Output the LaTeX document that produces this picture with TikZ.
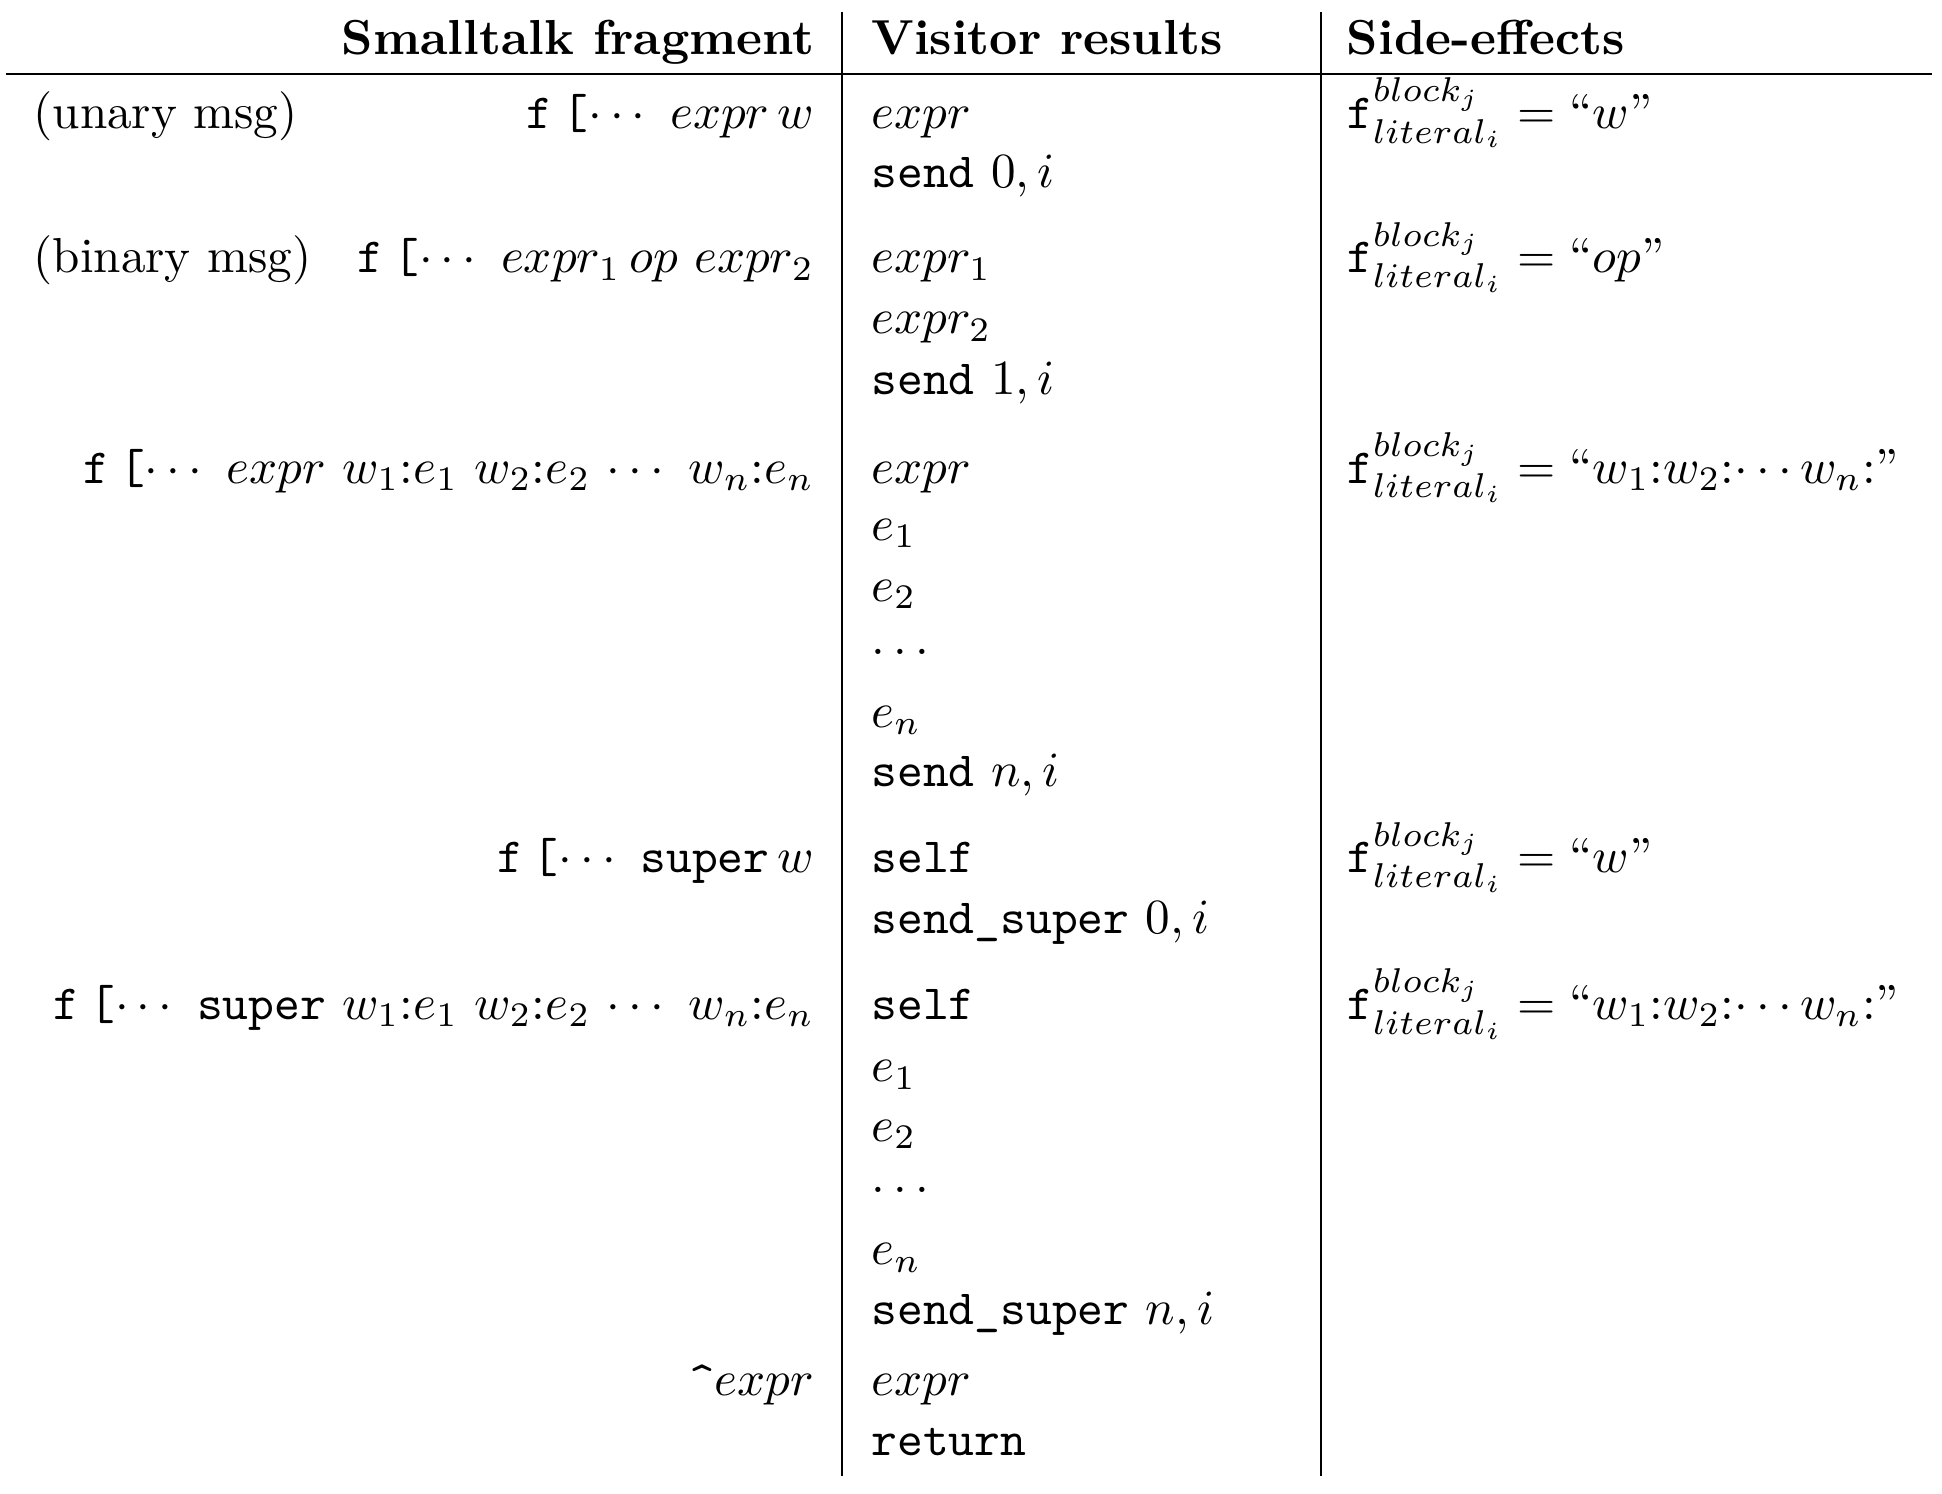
\documentclass[tikz,border=0pt]{standalone}
\usepackage{amsmath,amssymb}
\usepackage{tikz}
\usetikzlibrary{positioning}

\tikzset{
    txt/.style={inner sep=0pt, outer sep=0pt},
    lcell/.style={txt, anchor=base west},
    rcell/.style={txt, anchor=base east},
    rule/.style={line width=0.4pt}
}

\newcommand{\fopen}{\texttt{f}\hspace{2pt}\texttt{[}$\cdots$}
\newcommand{\flit}{$\mathtt{f}^{block_j}_{literal_i} = {}$}

\begin{document}
\begin{tikzpicture}[x=0.2532pt, y=-0.2532pt]
        \useasboundingbox (0,0) rectangle (1560,1200);
        \begin{scope}
            % Column rules
            \draw[rule] (676,10) -- (676,1186);
            \draw[rule] (1061,10) -- (1061,1186);
            \draw[line width=0.5pt] (5,59.5) -- (1552,59.5);

            % Header
            \node[rcell] (hfrag) at (654,44) {\textbf{Smalltalk fragment}};
            \node[lcell] (hvisit) at (700,44) {\textbf{Visitor results}};
            \node[lcell] (hside) at (1082,44) {\textbf{Side-effects}};

            % Smalltalk fragments
            \node[lcell] (unary) at (27,103) {(unary msg)};
            \node[rcell] (fragA) at (654,103) {\fopen\ $expr\,w$};
            \node[lcell] (binary) at (27,219) {(binary msg)};
            \node[rcell] (fragB) at (654,219) {\fopen\ $expr_1\,op\ expr_2$};
            \node[rcell] (fragC) at (654,388) {\fopen\ $expr$ $w_1{:}e_1$ $w_2{:}e_2$ $\cdots$ $w_n{:}e_n$};
            \node[rcell] (fragD) at (654,701) {\fopen\ \texttt{super}\,$w$};
            \node[rcell] (fragE) at (654,819) {\fopen\ \texttt{super} $w_1{:}e_1$ $w_2{:}e_2$ $\cdots$ $w_n{:}e_n$};
            \node[rcell] (fragF) at (654,1121) {\texttt{\^{}}$expr$};

            % Visitor results
            \node[lcell] (visA1) at (700,103) {$expr$};
            \node[lcell] (visA2) at (700,151) {\texttt{send} $0,i$};
            \node[lcell] (visB1) at (700,219) {$expr_1$};
            \node[lcell] (visB2) at (700,268) {$expr_2$};
            \node[lcell] (visB3) at (700,317) {\texttt{send} $1,i$};
            \node[lcell] (visC1) at (700,388) {$expr$};
            \node[lcell] (visC2) at (700,434) {$e_1$};
            \node[lcell] (visC3) at (700,483) {$e_2$};
            \node[lcell] (visC4) at (700,526) {$\ldots$};
            \node[lcell] (visC5) at (700,584) {$e_n$};
            \node[lcell] (visC6) at (700,632) {\texttt{send} $n,i$};
            \node[lcell] (visD1) at (700,701) {\texttt{self}};
            \node[lcell] (visD2) at (700,750) {\texttt{send\_super} $0,i$};
            \node[lcell] (visE1) at (700,819) {\texttt{self}};
            \node[lcell] (visE2) at (700,869) {$e_1$};
            \node[lcell] (visE3) at (700,917) {$e_2$};
            \node[lcell] (visE4) at (700,958) {$\ldots$};
            \node[lcell] (visE5) at (700,1016) {$e_n$};
            \node[lcell] (visE6) at (700,1064) {\texttt{send\_super} $n,i$};
            \node[lcell] (visF1) at (700,1121) {$expr$};
            \node[lcell] (visF2) at (700,1169) {\texttt{return}};

            % Side-effects
            \node[lcell] (sideA) at (1082,103) {\flit``$w$''};
            \node[lcell] (sideB) at (1082,219) {\flit``$op$''};
            \node[lcell] (sideC) at (1082,388) {\flit``$w_1$:$w_2$:$\cdots w_n$:''};
            \node[lcell] (sideD) at (1082,701) {\flit``$w$''};
            \node[lcell] (sideE) at (1082,819) {\flit``$w_1$:$w_2$:$\cdots w_n$:''};
        \end{scope}
    \end{tikzpicture}
\end{document}
